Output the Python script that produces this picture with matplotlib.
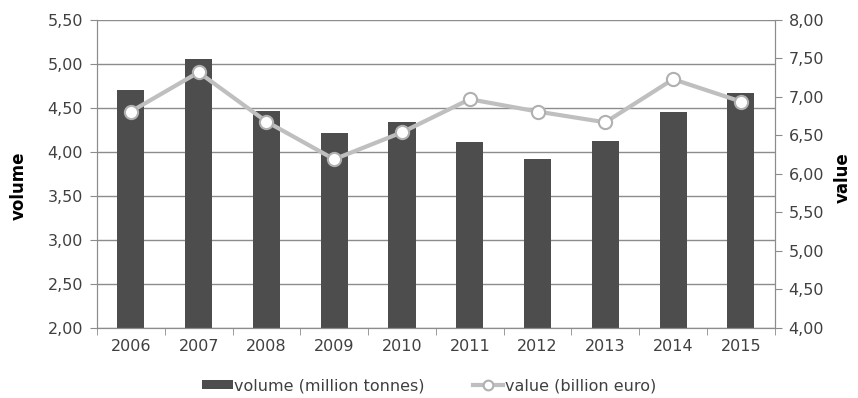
import matplotlib.pyplot as plt
from matplotlib.ticker import FuncFormatter, FixedLocator

years = ["2006", "2007", "2008", "2009", "2010", "2011", "2012", "2013", "2014", "2015"]
volume = [4.70, 5.06, 4.46, 4.21, 4.34, 4.11, 3.92, 4.12, 4.45, 4.67]
value = [6.81, 7.32, 6.68, 6.19, 6.54, 6.97, 6.81, 6.67, 7.23, 6.94]

grid_c = "#8c8c8c"
txt_c = "#404040"

def comma(v, pos):
    return ("%.2f" % v).replace(".", ",")

fig = plt.figure(figsize=(8.58, 3.98), dpi=100)
ax = fig.add_axes([0.113, 0.176, 0.790, 0.774])
ax2 = ax.twinx()

x = list(range(len(years)))
bars = ax.bar(x, volume, width=0.4, color="#4d4d4d", zorder=2,
              label="volume (million tonnes)")
line, = ax2.plot(x, value, color="#bfbfbf", lw=3, marker="o", ms=9.5,
                 mfc="white", mec="#b0b0b0", mew=1.5, zorder=3,
                 label="value (billion euro)")

ax.set_xlim(-0.5, len(years) - 0.5)
ax.set_ylim(2.0, 5.5)
ax2.set_ylim(4.0, 8.0)
ax.set_yticks([2.0 + 0.5 * i for i in range(8)])
ax2.set_yticks([4.0 + 0.5 * i for i in range(9)])
ax.yaxis.set_major_formatter(FuncFormatter(comma))
ax2.yaxis.set_major_formatter(FuncFormatter(comma))
ax.yaxis.grid(True, color=grid_c, lw=1, zorder=0)
ax.set_axisbelow(True)

ax.set_xticks(x)
ax.set_xticklabels(years)
ax.xaxis.set_minor_locator(FixedLocator([i + 0.5 for i in range(-1, len(years))]))
ax.tick_params(axis="x", which="major", length=0, pad=8, labelsize=11.5, labelcolor=txt_c)
ax.tick_params(axis="x", which="minor", length=5, color=grid_c)
ax.tick_params(axis="y", length=5, color=grid_c, labelsize=11.5, labelcolor=txt_c, pad=5)
ax2.tick_params(axis="y", length=5, color=grid_c, labelsize=11.5, labelcolor=txt_c, pad=5)

for a in (ax, ax2):
    a.spines["top"].set_visible(False)
    for s in ("left", "right", "bottom"):
        a.spines[s].set_color(grid_c)

ax.set_ylabel("volume", fontsize=12, fontweight="bold")
ax2.set_ylabel("value", fontsize=12, fontweight="bold")
ax.yaxis.set_label_coords(-0.102, 0.461)
ax2.yaxis.set_label_coords(1.087, 0.487)

leg = fig.legend(handles=[bars, line], loc="lower center", bbox_to_anchor=(0.5, -0.025),
                 ncol=2, frameon=False, fontsize=11.5, handlelength=1.9,
                 handleheight=0.5, columnspacing=3, handletextpad=0.1,
                 labelcolor=txt_c)
leg.legend_handles[1].set_markersize(7)

fig.savefig("out.png", dpi=100)
